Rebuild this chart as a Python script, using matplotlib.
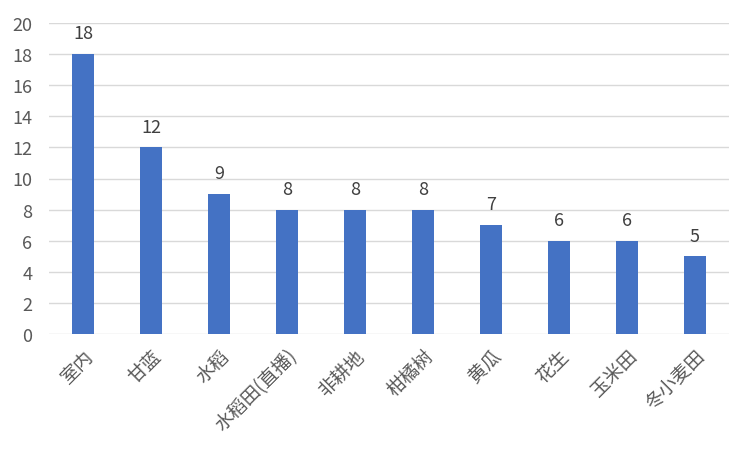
import matplotlib
matplotlib.use("Agg")
import matplotlib.pyplot as plt

plt.rcParams['font.family'] = ['Noto Sans CJK SC', 'DejaVu Sans']

categories = ["室内", "甘蓝", "水稻", "水稻田(直播)", "非耕地", "柑橘树", "黄瓜", "花生", "玉米田", "冬小麦田"]
values = [18, 12, 9, 8, 8, 8, 7, 6, 6, 5]
yticks = [0, 2, 4, 6, 8, 10, 12, 14, 16, 18, 20]

fig = plt.figure(figsize=(7.51, 4.52), dpi=100)
ax = fig.add_axes([49/751, 1-335/452, 680/751, 311/452])
x = list(range(len(categories)))
bars = ax.bar(x, values, width=0.31, color="#4472C4", zorder=3)
for xi, v in zip(x, values):
    ax.text(xi, v + 0.75, str(v), ha='center', va='bottom', fontsize=13, color="#404040")

ax.set_xlim(-0.5, len(categories) - 0.5)
ax.set_ylim(0, 20)
ax.set_yticks(yticks)
ax.set_yticklabels([str(t) for t in yticks], fontsize=13, color="#595959")
ax.set_xticks(x)
ax.set_xticklabels(categories, rotation=45, ha='right', rotation_mode='anchor', fontsize=13.5, color="#595959")
ax.grid(axis='y', color="#D9D9D9", linewidth=1, zorder=0)
for s in ax.spines.values():
    s.set_visible(False)
ax.tick_params(axis='y', length=0, pad=12)
ax.tick_params(axis='x', length=0, pad=8)

fig.savefig("out.png", dpi=100)
